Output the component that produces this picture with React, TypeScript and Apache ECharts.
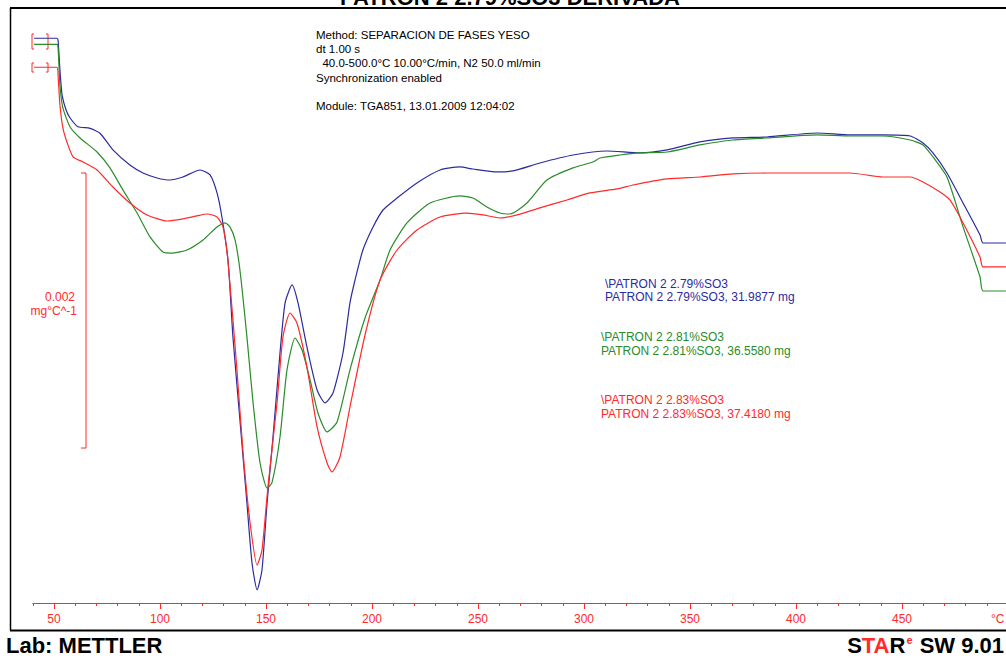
import React, { useEffect, useRef } from "react";
import * as echarts from "echarts";

// Temperatures (°C) and derivative values (10^-3 mg/°C, offset per curve)
const blueTemp = [40.6, 51.4, 51.9, 52.8, 53.8, 55.7, 57.6, 61.3, 67.0, 71.7, 77.8, 85.8, 92.0, 98.6, 104.7, 110.8, 118.9, 123.6, 126.9, 129.2, 132.1, 134.4, 137.7, 141.0, 143.4, 145.8, 148.1, 150.5, 153.3, 156.6, 159.0, 162.3, 165.1, 169.3, 174.1, 177.8, 181.6, 186.3, 189.6, 192.0, 195.7, 200.5, 205.2, 211.8, 221.2, 232.1, 241.5, 247.6, 259.0, 266.5, 279.2, 294.8, 310.8, 326.4, 339.2, 354.7, 370.3, 386.3, 409.9, 425.5, 441.0, 453.8, 459.9, 464.6, 471.2, 478.8, 486.8, 488.2, 499.0];
const blueDeriv = [4.107, 4.107, 4.095, 3.876, 3.695, 3.585, 3.527, 3.464, 3.452, 3.416, 3.295, 3.185, 3.127, 3.091, 3.076, 3.098, 3.149, 3.113, 2.982, 2.807, 2.49, 1.935, 1.331, 0.727, 0.291, 0.095, 0.240, 0.727, 1.207, 1.818, 2.182, 2.313, 2.182, 1.862, 1.549, 1.455, 1.527, 1.818, 2.182, 2.349, 2.567, 2.735, 2.858, 2.945, 3.055, 3.149, 3.171, 3.156, 3.135, 3.142, 3.200, 3.258, 3.287, 3.273, 3.295, 3.353, 3.382, 3.389, 3.418, 3.404, 3.404, 3.396, 3.345, 3.273, 3.127, 2.909, 2.676, 2.618, 2.618];

const greenTemp = [40.6, 51.4, 51.9, 52.8, 54.2, 57.6, 62.3, 70.3, 76.4, 82.5, 89.2, 95.3, 101.4, 106.1, 112.7, 120.3, 126.9, 130.7, 133.0, 135.4, 137.7, 141.0, 143.9, 147.2, 150.5, 152.8, 156.6, 159.9, 163.7, 167.0, 170.8, 174.5, 178.8, 183.5, 189.6, 196.7, 203.8, 208.5, 216.5, 227.4, 241.5, 247.6, 254.2, 260.4, 265.1, 273.1, 282.5, 294.8, 304.2, 307.5, 317.0, 326.4, 339.2, 354.7, 370.3, 386.3, 409.9, 425.5, 441.0, 453.8, 459.9, 464.6, 471.2, 478.8, 486.8, 488.2, 499.0];
const greenDeriv = [4.063, 4.063, 4.044, 3.767, 3.600, 3.462, 3.382, 3.280, 3.164, 3.004, 2.836, 2.662, 2.553, 2.545, 2.567, 2.640, 2.735, 2.764, 2.735, 2.640, 2.422, 1.935, 1.455, 1.018, 0.836, 0.873, 1.207, 1.695, 1.927, 1.840, 1.622, 1.382, 1.244, 1.316, 1.695, 2.073, 2.349, 2.567, 2.764, 2.909, 2.960, 2.945, 2.880, 2.836, 2.829, 2.909, 3.076, 3.164, 3.207, 3.236, 3.258, 3.273, 3.280, 3.331, 3.367, 3.382, 3.404, 3.396, 3.396, 3.367, 3.331, 3.244, 3.098, 2.735, 2.371, 2.269, 2.269];

const redTemp = [40.6, 51.4, 51.9, 52.8, 54.2, 56.1, 59.0, 63.7, 70.3, 77.8, 85.8, 93.9, 103.3, 110.8, 117.5, 122.2, 126.9, 129.7, 132.1, 136.3, 139.2, 142.5, 145.8, 148.1, 150.9, 155.2, 158.0, 161.3, 164.6, 169.3, 174.1, 178.8, 181.1, 184.9, 189.6, 196.7, 203.8, 211.8, 221.2, 232.1, 244.8, 252.4, 260.4, 268.4, 279.2, 292.0, 302.8, 315.6, 323.1, 339.2, 354.7, 370.3, 386.3, 409.9, 425.5, 441.0, 453.8, 459.9, 467.9, 472.6, 478.8, 486.8, 488.2, 499.0];
const redDeriv = [3.896, 3.896, 3.840, 3.622, 3.455, 3.353, 3.244, 3.207, 3.149, 3.025, 2.909, 2.822, 2.778, 2.793, 2.815, 2.829, 2.807, 2.735, 2.480, 1.695, 1.091, 0.582, 0.276, 0.385, 0.844, 1.455, 1.935, 2.109, 2.036, 1.716, 1.280, 1.018, 0.953, 1.062, 1.425, 1.949, 2.349, 2.567, 2.713, 2.807, 2.836, 2.822, 2.800, 2.822, 2.873, 2.931, 2.982, 3.011, 3.040, 3.084, 3.098, 3.120, 3.127, 3.127, 3.127, 3.098, 3.098, 3.062, 2.989, 2.931, 2.764, 2.516, 2.444, 2.444];

const xTickLabels = [50, 100, 150, 200, 250, 300, 350, 400, 450];

// Scale bar: 0.002 mg/°C = 2 units
const scaleBarTemp = [62.7, 65.1, 65.1, 62.7];
const scaleBarValue = [3.127, 3.127, 1.127, 1.127];

const infoLines = [
  "Method: SEPARACION DE FASES YESO",
  "dt 1.00 s",
  "  40.0-500.0°C 10.00°C/min, N2 50.0 ml/min",
  "Synchronization enabled",
  "",
  "Module: TGA851, 13.01.2009 12:04:02",
];

const legendLines = [
  ["\\PATRON 2 2.79%SO3", "PATRON 2 2.79%SO3, 31.9877 mg"],
  ["\\PATRON 2 2.81%SO3", "PATRON 2 2.81%SO3, 36.5580 mg"],
  ["\\PATRON 2 2.83%SO3", "PATRON 2 2.83%SO3, 37.4180 mg"],
];

const BLUE = "#2b2ba0";
const GREEN = "#2a8c2a";
const RED = "#ff2a2a";
const FONT = "'Liberation Sans', Arial, sans-serif";

const zip = (a: number[], b: number[]) => a.map((t, i) => [t, b[i]]);

export default function App() {
  const ref = useRef<HTMLDivElement>(null);
  useEffect(() => {
    document.body.style.margin = "0";
    const chart = echarts.init(ref.current!, null, { renderer: "svg" });

    const lineSeries = (name: string, t: number[], v: number[], color: string) => ({
      name,
      type: "line",
      data: zip(t, v),
      showSymbol: false,
      symbol: "none",
      smooth: 0.2,
      lineStyle: { color, width: 1.2 },
      itemStyle: { color },
      silent: true,
    });

    const txt = (x: number, y: number, text: string, fill: string, font: string, align = "left") => ({
      type: "text",
      x,
      y,
      silent: true,
      style: { text, fill, font, align, verticalAlign: "middle" },
    });

    const bracket = (pts: number[][]) => ({
      type: "polyline",
      silent: true,
      shape: { points: pts },
      style: { stroke: RED, lineWidth: 1, fill: "none" },
    });

    const graphic: any[] = [
      // title (cut off at the top, as in the reference)
      {
        type: "text",
        x: 510,
        y: 8.5,
        silent: true,
        style: {
          text: "PATRON 2 2.79%SO3 DERIVADA",
          fill: "#000",
          font: `bold 22px ${FONT}`,
          align: "center",
          verticalAlign: "bottom",
        },
      },
      // frame
      { type: "line", silent: true, shape: { x1: 10, y1: 8, x2: 1006, y2: 8 }, style: { stroke: "#000", lineWidth: 2 } },
      { type: "line", silent: true, shape: { x1: 10.5, y1: 8, x2: 10.5, y2: 630 }, style: { stroke: "#000", lineWidth: 1.5 } },
      { type: "line", silent: true, shape: { x1: 10, y1: 630.5, x2: 1006, y2: 630.5 }, style: { stroke: "#000", lineWidth: 2 } },
      // start markers
      bracket([[34, 34], [32, 34], [32, 49], [34, 49]]),
      bracket([[46, 34], [48, 34], [48, 49], [46, 49]]),
      bracket([[34, 63], [32, 63], [32, 72], [34, 72]]),
      bracket([[46, 63], [48, 63], [48, 72], [46, 72]]),
      // scale bar labels
      txt(75, 297, "0.002", RED, `12px ${FONT}`, "right"),
      txt(77, 311, "mg°C^-1", RED, `12px ${FONT}`, "right"),
      // °C unit
      txt(991, 619, "°C", RED, `12px ${FONT}`),
      // bottom labels
      txt(6, 645, "Lab: METTLER", "#000", `bold 22px ${FONT}`),
      {
        type: "text",
        x: 1004,
        y: 645,
        silent: true,
        style: {
          text: "{k|S}{r|TA}{k|R}{e|e}{k| SW 9.01}",
          align: "right",
          verticalAlign: "middle",
          font: `bold 22px ${FONT}`,
          rich: {
            k: { fill: "#000", font: `bold 22px ${FONT}` },
            r: { fill: RED, font: `bold 22px ${FONT}` },
            e: { fill: RED, font: `bold 11px ${FONT}`, verticalAlign: "top", padding: [0, 1, 10, 1] },
          },
        },
      },
    ];

    infoLines.forEach((line, i) => {
      if (line) graphic.push(txt(316, 35 + i * 14.2, line, "#000", `11.5px ${FONT}`));
    });

    const legendColors = [BLUE, GREEN, RED];
    const legendPos = [
      [605, 284, 297],
      [601, 337, 351],
      [601, 400, 414],
    ];
    legendLines.forEach((pair, i) => {
      const [x, y1, y2] = legendPos[i];
      graphic.push(txt(x, y1, pair[0], legendColors[i], `12px ${FONT}`));
      graphic.push(txt(x, y2, pair[1], legendColors[i], `12px ${FONT}`));
    });

    chart.setOption({
      animation: false,
      backgroundColor: "#fff",
      grid: { left: 32.8, right: 0.1, top: 8, bottom: 55, containLabel: false },
      xAxis: [
        {
          type: "value",
          min: 40,
          max: 499,
          interval: 10,
          axisLine: { show: true, lineStyle: { color: RED, width: 1 } },
          axisTick: { show: true, length: 3, lineStyle: { color: RED, width: 1 } },
          axisLabel: {
            customValues: xTickLabels,
            color: RED,
            fontSize: 12,
            fontFamily: FONT,
            margin: 10,
          },
          splitLine: { show: false },
        },
        {
          type: "value",
          min: 40,
          max: 499,
          position: "bottom",
          axisLine: { show: false },
          axisTick: { show: true, length: 6, customValues: xTickLabels, lineStyle: { color: RED, width: 1 } },
          axisLabel: { show: false },
          splitLine: { show: false },
        },
      ],
      yAxis: { type: "value", min: 0, max: 4.327, show: false },
      series: [
        lineSeries("PATRON 2 2.79%SO3", blueTemp, blueDeriv, BLUE),
        lineSeries("PATRON 2 2.81%SO3", greenTemp, greenDeriv, GREEN),
        lineSeries("PATRON 2 2.83%SO3", redTemp, redDeriv, RED),
        {
          name: "scale",
          type: "line",
          data: zip(scaleBarTemp, scaleBarValue),
          symbol: "none",
          smooth: false,
          lineStyle: { color: RED, width: 1 },
          silent: true,
        },
      ],
      graphic,
    });
    return () => chart.dispose();
  }, []);
  return <div ref={ref} style={{ position: "absolute", left: 0, top: 0, width: 1006, height: 658 }} />;
}
